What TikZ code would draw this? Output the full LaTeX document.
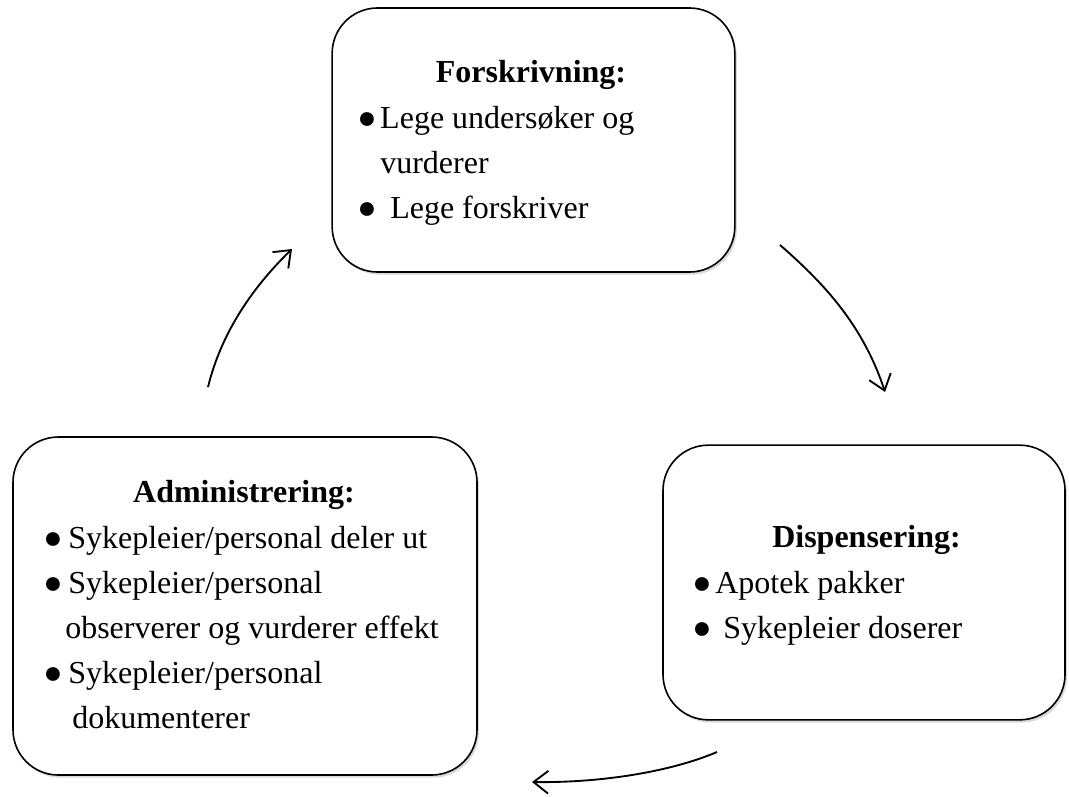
\documentclass[tikz,border=0pt]{standalone}
\usepackage{fontspec}
\setmainfont{Liberation Serif}
\usepackage{tikz}
\usetikzlibrary{arrows.meta, shadows}
\newcommand{\punkt}[1]{\makebox[#1][l]{●}}
\tikzset{stage/.style={rectangle,draw,line width=1.2pt,rounded corners=34pt,fill=white,drop shadow={shadow xshift=1.5pt,shadow yshift=-2pt,opacity=0.3}},
         heading/.style={font=\fontsize{24pt}{33.75pt}\selectfont\bfseries,inner sep=0pt,anchor=base},
         items/.style={font=\fontsize{24pt}{33.75pt}\selectfont,align=left,inner sep=0pt,anchor=base west},
         arrow/.style={-{Straight Barb[length=11pt,width=17pt]},line width=1.4pt}}
\begin{document}
\begin{tikzpicture}[x=0.75pt,y=-0.75pt]
    \useasboundingbox (0,0) rectangle (1069,796);
    \node (forsk) [stage, minimum width=302pt, minimum height=198pt] at (533.5,140) {};
    \node (admin) [stage, minimum width=348pt, minimum height=253.5pt] at (245,606) {};
    \node (disp) [stage, minimum width=301.5pt, minimum height=206pt] at (864,582.5) {};
    % headings and lists (lists sit on their last baseline)
    \node (forskhead) [heading] at (531,82) {Forskrivning:};
    \node (forsklist) [items] at (357,218) {\punkt{17.25pt}Lege undersøker og\\\hspace*{17.25pt}vurderer\\\punkt{24.75pt}Lege forskriver};
    \node (adminhead) [heading] at (244,502) {Administrering:};
    \node (adminlist) [items] at (43,728) {\punkt{18.75pt}Sykepleier/personal deler ut\\\punkt{18.75pt}Sykepleier/personal\\\hspace*{16.5pt}observerer og vurderer effekt\\\punkt{18.75pt}Sykepleier/personal\\\hspace*{21.75pt}dokumenterer};
    \node (disphead) [heading] at (866.5,547) {Dispensering:};
    \node (displist) [items] at (692,638) {\punkt{17.25pt}Apotek pakker\\\punkt{23.25pt}Sykepleier doserer};
    % cycle arrows
    \coordinate (a1) at (780,245);
    \coordinate (b1) at (885,392);
    \coordinate (a2) at (717,752);
    \coordinate (b2) at (532,782);
    \coordinate (a3) at (208,387);
    \coordinate (b3) at (292,249);
    \draw[arrow] (a1) .. controls (820,280) and (862,322) .. (b1);
    \draw[arrow] (a2) .. controls (670,772) and (600,783) .. (b2);
    \draw[arrow] (a3) .. controls (222,330) and (255,285) .. (b3);
  \end{tikzpicture}
\end{document}
